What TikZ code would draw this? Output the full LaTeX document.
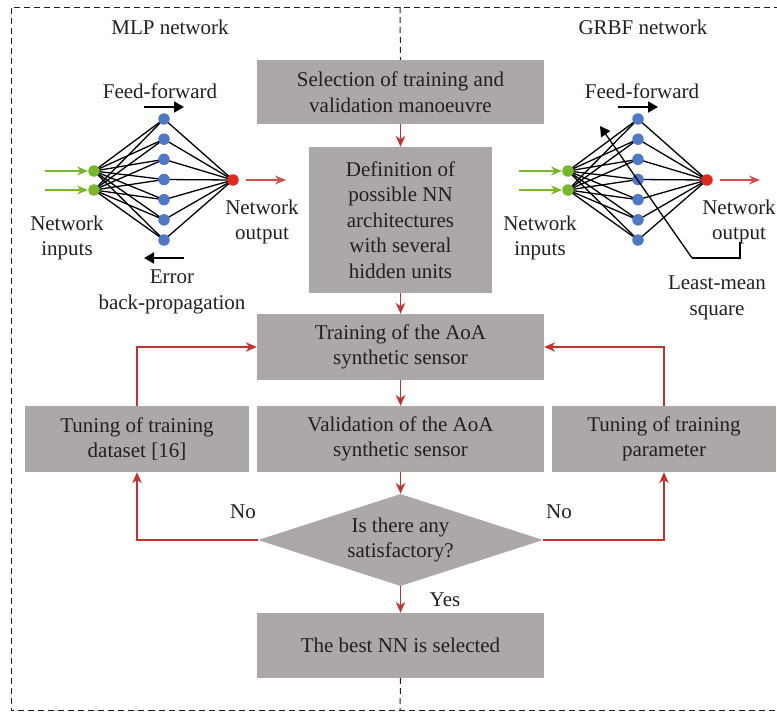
\documentclass[tikz,border=0pt]{standalone}
\usepackage{fontspec}
\setmainfont{Liberation Serif}
\usetikzlibrary{arrows.meta,shapes.geometric,backgrounds}
\definecolor{boxgray}{HTML}{ABA8A7}
\definecolor{arrred}{HTML}{C9302C}
\definecolor{ngreen}{HTML}{78B62A}
\definecolor{nblue}{HTML}{4F78C6}
\definecolor{nred}{HTML}{E0281C}
\definecolor{txt}{HTML}{231F20}
\begin{document}
\begin{tikzpicture}[x=1pt,y=-1pt,
  every node/.style={text=txt},
  font=\fontsize{21}{25.5}\selectfont,
  box/.style={fill=boxgray,inner sep=0pt,align=center},
  lbl/.style={inner sep=0pt,align=center},
  rarr/.style={draw=arrred,line width=1.5pt,-{Stealth[length=11pt,width=9.5pt]}},
  garr/.style={draw=ngreen,line width=1.5pt,-{Stealth[length=11pt,width=9pt]}},
  oarr/.style={draw=arrred!85,line width=1.5pt,-{Stealth[length=11pt,width=9pt]}},
  karr/.style={draw=black,line width=1.8pt,-{Triangle[length=10pt,width=11pt]}},
  frame/.style={draw=txt,line width=1pt,dash pattern=on 6pt off 4pt},
  dotg/.style={circle,fill=ngreen,inner sep=0pt,minimum size=11.5pt},
  dotb/.style={circle,fill=nblue,inner sep=0pt,minimum size=11.5pt},
  dotr/.style={circle,fill=nred,inner sep=0pt,minimum size=11.5pt},
  wire/.style={draw=black,line width=1.3pt}]
\useasboundingbox (0,0) rectangle (777,712);

% frame
\coordinate (ftl) at (11,7);
\coordinate (ftr) at (790,7);
\coordinate (fbl) at (11,710.5);
\coordinate (fbr) at (790,710.5);
\coordinate (ftm) at (400,7);
\coordinate (fbm) at (400,710.5);
\draw[frame] (ftr) -- (ftl) -- (fbl) -- (fbr);

% flowchart boxes
\node[box,minimum width=287pt,minimum height=64pt] (b1) at (400.5,92) {Selection of training and\\validation manoeuvre};
\node[box,minimum width=183pt,minimum height=146pt] (b2) at (400.5,220) {Definition of\\possible NN\\architectures\\with several\\hidden units};
\node[box,minimum width=287pt,minimum height=66pt] (b3) at (400.5,347) {Training of the AoA\\synthetic sensor};
\node[box,minimum width=287pt,minimum height=66pt] (b4) at (400.5,439) {Validation of the AoA\\synthetic sensor};
\node[box,minimum width=224pt,minimum height=66pt] (lb) at (137,439) {Tuning of training\\dataset [16]};
\node[box,minimum width=224pt,minimum height=66pt] (rb) at (664,439) {Tuning of training\\parameter};
\node[diamond,fill=boxgray,inner sep=0pt,minimum width=285pt,minimum height=92pt] (dia) at (400.5,540) {};
\node[lbl] (diat) at (dia.center) {Is there any\\satisfactory?};
\node[box,minimum width=287pt,minimum height=65pt] (b5) at (400.5,645.5) {The best NN is selected};

\draw[frame] (ftm) -- (b1.north);
\draw[frame] (b5.south) -- (fbm);

% flow arrows
\draw[rarr] (b1) -- (b2);
\draw[rarr] (b2) -- (b3);
\draw[rarr] (b3) -- (b4);
\draw[rarr] (b4) -- (dia);
\draw[rarr] (dia) -- (b5);
\draw[rarr] (dia.west) -| (lb.south);
\draw[rarr] (lb.north) |- (b3.west);
\draw[rarr] (dia.east) -| (rb.south);
\draw[rarr] (rb.north) |- (b3.east);
\node[lbl] (no1) at (243,512) {No};
\node[lbl] (no2) at (559,512) {No};
\node[lbl] (yes) at (445,600) {Yes};

% networks
\foreach \p/\dx in {L/0,R/474}{
  \begin{scope}[xshift=\dx]
    \node[dotg] (\p i1) at (94,171) {};
    \node[dotg] (\p i2) at (94,190) {};
    \foreach \k in {1,...,7}{
      \node[dotb] (\p h\k) at (164,{119+20.17*(\k-1)}) {};
    }
    \node[dotr] (\p o) at (233,180) {};
    \coordinate (\p a1) at (45,171);
    \coordinate (\p a2) at (45,190);
    \coordinate (\p ff1) at (144,107);
    \coordinate (\p ff2) at (184,107);
    \coordinate (\p os) at (246,180);
    \coordinate (\p oe) at (286,180);
  \end{scope}
  \begin{pgfonlayer}{background}
    \foreach \k in {1,...,7}{
      \draw[wire] (\p i1.center) -- (\p h\k.center);
      \draw[wire] (\p i2.center) -- (\p h\k.center);
      \draw[wire] (\p h\k.center) -- (\p o.center);
    }
  \end{pgfonlayer}
  \draw[garr] (\p a1) -- (\p i1);
  \draw[garr] (\p a2) -- (\p i2);
  \draw[oarr] (\p os) -- (\p oe);
  \draw[karr] (\p ff1) -- (\p ff2);
}
\coordinate (bp1) at (184,258);
\coordinate (bp2) at (144,258);
\draw[karr] (bp1) -- (bp2);

% least mean square
\coordinate (lm1) at (740,242);
\coordinate (lm2) at (740,258);
\coordinate (lm3) at (692,258);
\coordinate (lm4) at (600,126);
\draw[wire] (lm1) -- (lm2) -- (lm3);
\draw[wire,-{Triangle[length=10pt,width=11pt]}] (lm3) -- (lm4);

% labels
\node[lbl] (mlp) at (170,27) {MLP network};
\node[lbl] (grbf) at (643,27) {GRBF network};
\node[lbl] (ffL) at (160,91) {Feed-forward};
\node[lbl] (ffR) at (642,91) {Feed-forward};
\node[lbl] (niL) at (67,238) {Network\\inputs};
\node[lbl] (niR) at (540,238) {Network\\inputs};
\node[lbl] (noL) at (262,222) {Network\\output};
\node[lbl] (noR) at (739,222) {Network\\output};
\node[lbl] (ebp) at (172,292) {Error\\back-propagation};
\node[lbl] (lms) at (717,298) {Least-mean\\square};
\end{tikzpicture}
\end{document}
